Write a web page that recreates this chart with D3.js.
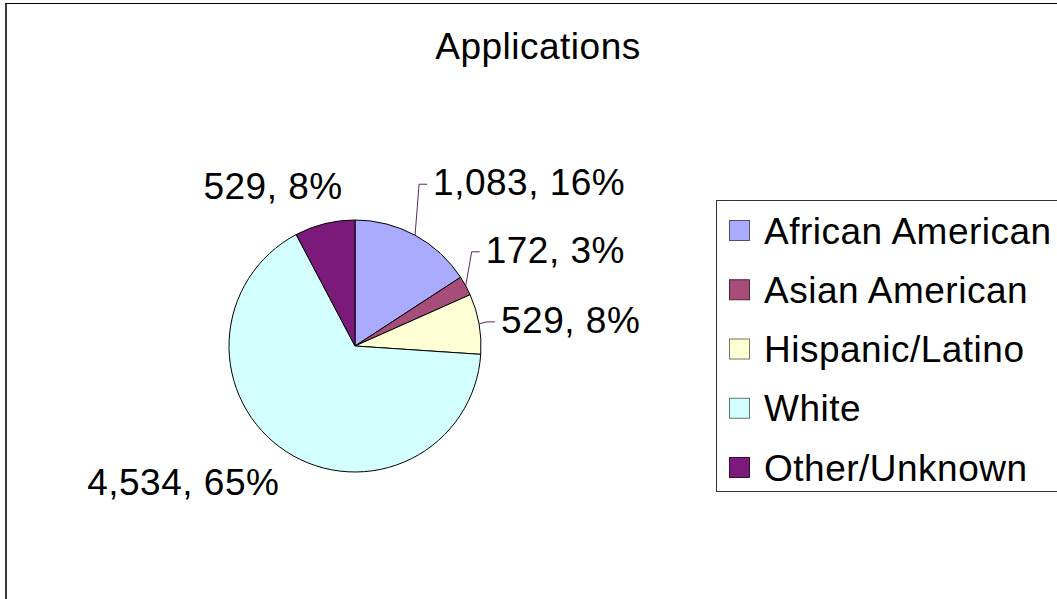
<!DOCTYPE html>
<html>
<head>
<meta charset="utf-8">
<script src="https://cdn.jsdelivr.net/npm/d3@7"></script>
<style>
  html, body { margin: 0; padding: 0; background: #fff; }
  svg { display: block; }
  text { font-family: "Liberation Sans", Arial, sans-serif; fill: #000; letter-spacing: 0.5px; }
</style>
</head>
<body>
<svg id="chart" width="1057" height="599"></svg>
<script>
// ---- data ----
const title = "Applications";
const categories = ["African American", "Asian American", "Hispanic/Latino", "White", "Other/Unknown"];
const values = [1083, 172, 529, 4534, 529];
const percentLabels = ["16%", "3%", "8%", "65%", "8%"];
const colors = ["#aaaaff", "#a64d79", "#ffffd6", "#d4ffff", "#7b1a7b"];

// ---- layout ----
const W = 1057, H = 599;
const cx = 355, cy = 346, R = 126;
const fontSize = 37;
const svg = d3.select("#chart");

// frame
svg.append("line").attr("x1", 6).attr("x2", 6).attr("y1", 3).attr("y2", H)
  .attr("stroke", "#3a3a3a").attr("stroke-width", 2);
svg.append("line").attr("x1", 5).attr("x2", W).attr("y1", 3.5).attr("y2", 3.5)
  .attr("stroke", "#000").attr("stroke-width", 1);

// title
svg.append("text").attr("x", 538).attr("y", 59)
  .attr("text-anchor", "middle").attr("font-size", fontSize).text(title);

// pie
const pie = d3.pie().sort(null).value(d => d.value);
const data = categories.map((c, i) => ({ name: c, value: values[i], pct: percentLabels[i], color: colors[i] }));
const arcs = pie(data);
const arc = d3.arc().innerRadius(0).outerRadius(R);

const g = svg.append("g").attr("transform", `translate(${cx},${cy})`);
g.selectAll("path.slice").data(arcs).enter().append("path")
  .attr("class", "slice")
  .attr("d", arc)
  .attr("fill", d => d.data.color)
  .attr("stroke", "#000")
  .attr("stroke-width", 1)
  .attr("stroke-linejoin", "round");

// labels (layout offsets from outer edge point, per slice; side chosen by angle)
const labelLayout = [
  { dx: 18, dy: 40, leader: true },
  { dx: 20, dy: -23, leader: true },
  { dx: 22, dy: 9, leader: true },
  { dx: -7, dy: 43, leader: false },
  { dx: 18, dy: -25, leader: false }
];
const fmt = d3.format(",");
arcs.forEach((a, i) => {
  const mid = (a.startAngle + a.endAngle) / 2;
  const ox = R * Math.sin(mid), oy = -R * Math.cos(mid);
  const L = labelLayout[i];
  const rightSide = Math.sin(mid) > 0;
  const tx = ox + L.dx, ty = oy + (i === 0 ? -L.dy : L.dy);
  const label = `${fmt(a.data.value)}, ${a.data.pct}`;
  g.append("text")
    .attr("x", tx).attr("y", ty)
    .attr("text-anchor", rightSide ? "start" : "end")
    .attr("font-size", fontSize)
    .text(label);
  if (L.leader) {
    const my = ty - 11;
    const pts = [[ox, oy], [tx - 14, my], [tx - 6, my]];
    g.append("path")
      .attr("d", d3.line()(pts))
      .attr("fill", "none")
      .attr("stroke", "#5a2a5a")
      .attr("stroke-width", 1);
  }
});

// legend
const legX = 716.5, legY = 200.5, legH = 291;
svg.append("rect").attr("x", legX).attr("y", legY).attr("width", 500).attr("height", legH)
  .attr("fill", "#fff").attr("stroke", "#333").attr("stroke-width", 1);
const ly = d3.scalePoint().domain(categories).range([220, 457]);
const items = svg.append("g").selectAll("g").data(data).enter().append("g")
  .attr("transform", d => `translate(0,${ly(d.name)})`);
items.append("rect")
  .attr("x", 729.5).attr("y", 0.5).attr("width", 20).attr("height", 20)
  .attr("fill", d => d.color)
  .attr("stroke", d => d3.color(d.color).darker(2.2))
  .attr("stroke-width", 1);
items.append("text")
  .attr("x", 764).attr("y", 23.5)
  .attr("font-size", fontSize)
  .text(d => d.name);
</script>
</body>
</html>
